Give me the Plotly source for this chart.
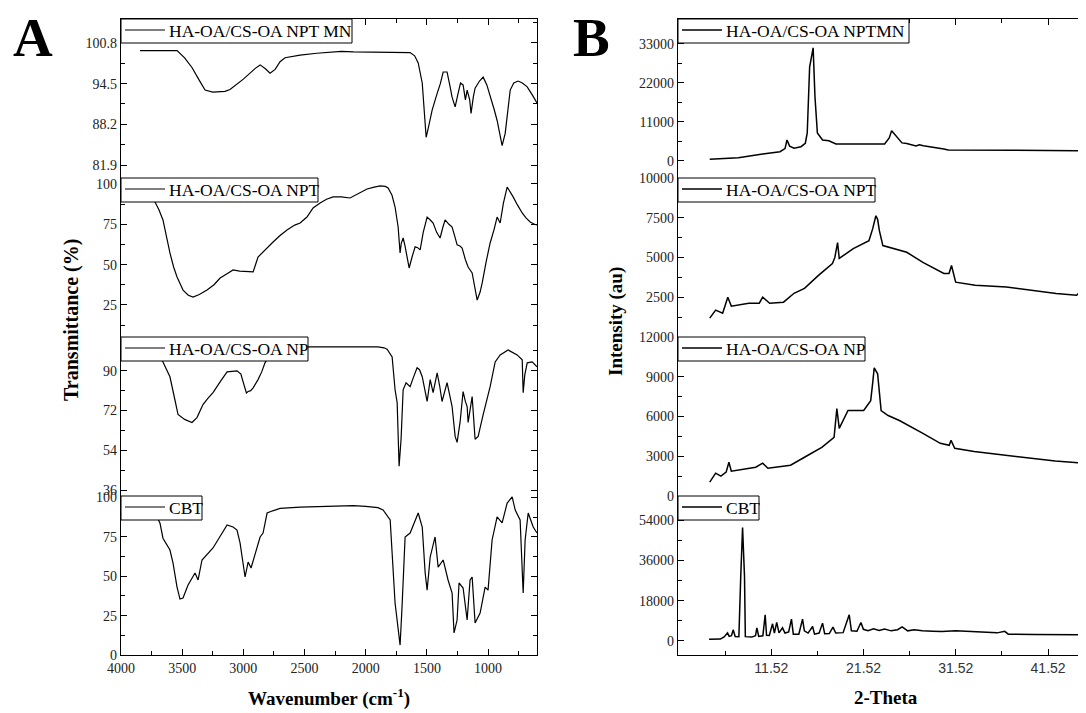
import plotly.graph_objects as go

# page geometry: the html body adds an 8px offset, so the figure fills the rest
PAGE_W, PAGE_H, OFF = 1086, 713, 8
FW, FH = PAGE_W - OFF, PAGE_H - OFF

# ---------------- FTIR (panel A) ----------------
ftir_wn_mn = [3845, 3542, 3480, 3420, 3360, 3313, 3250, 3150, 3109, 3000, 2900, 2863, 2820, 2782, 2740, 2700, 2659, 2536, 2400, 2300, 2200, 2100, 2000, 1800, 1700, 1637, 1600, 1571, 1538, 1520, 1506, 1490, 1470, 1457, 1416, 1390, 1367, 1335, 1310, 1294, 1269, 1255, 1245, 1225, 1204, 1185, 1171, 1150, 1139, 1120, 1106, 1070, 1040, 1010, 983, 950, 926, 900, 885, 860, 840, 819, 790, 754, 720, 680, 640, 615, 600]
ftir_t_mn = [99.6, 99.6, 98.5, 97.0, 95.0, 93.5, 93.2, 93.3, 93.6, 95.2, 96.9, 97.4, 96.8, 96.1, 96.7, 97.9, 98.5, 98.9, 99.2, 99.3, 99.5, 99.4, 99.4, 99.4, 99.4, 99.3, 98.8, 97.7, 94.6, 90.0, 86.2, 87.5, 89.0, 90.4, 93.0, 94.5, 96.3, 96.3, 94.0, 92.4, 90.9, 92.5, 93.0, 94.6, 94.3, 92.0, 93.5, 92.0, 89.9, 92.5, 93.8, 94.9, 95.5, 94.3, 92.7, 90.5, 88.8, 86.5, 84.9, 86.8, 90.5, 93.5, 94.6, 94.9, 94.6, 94.0, 92.8, 91.9, 91.5]

ftir_wn_npt = [3790, 3750, 3722, 3690, 3657, 3630, 3600, 3570, 3542, 3510, 3493, 3450, 3411, 3360, 3297, 3240, 3190, 3130, 3084, 3030, 2970, 2920, 2880, 2820, 2757, 2700, 2643, 2580, 2536, 2480, 2430, 2373, 2320, 2266, 2200, 2128, 2060, 1989, 1930, 1882, 1840, 1817, 1785, 1760, 1735, 1719, 1710, 1694, 1680, 1670, 1645, 1620, 1596, 1575, 1555, 1530, 1498, 1470, 1449, 1420, 1392, 1370, 1351, 1320, 1294, 1270, 1253, 1230, 1212, 1185, 1163, 1130, 1110, 1089, 1065, 1048, 1015, 983, 950, 926, 901, 875, 844, 820, 795, 760, 721, 690, 656, 620, 600]
ftir_t_npt = [91.5, 90.5, 88.8, 84.0, 77.7, 67.0, 57.2, 48.5, 42.3, 37.0, 34.2, 31.0, 29.9, 31.5, 34.2, 37.5, 41.7, 44.5, 46.7, 46.0, 45.5, 45.5, 54.7, 59.5, 64.0, 68.0, 71.5, 74.5, 75.8, 79.5, 85.1, 88.2, 90.5, 92.0, 92.0, 91.3, 94.0, 96.9, 98.0, 98.8, 98.5, 97.5, 93.0, 85.7, 73.3, 57.2, 63.0, 66.5, 62.0, 57.2, 47.9, 55.0, 61.0, 60.5, 59.1, 70.0, 79.5, 77.5, 75.8, 70.0, 66.5, 73.0, 77.7, 75.0, 73.3, 67.0, 62.2, 61.5, 60.3, 53.0, 48.5, 44.8, 36.0, 28.0, 33.0, 38.6, 52.0, 63.4, 72.0, 79.5, 75.8, 88.0, 98.1, 95.5, 92.0, 87.0, 82.0, 79.0, 76.4, 75.0, 74.6]

ftir_wn_np = [3790, 3700, 3657, 3600, 3560, 3534, 3480, 3420, 3379, 3330, 3290, 3248, 3190, 3133, 3052, 3020, 3002, 2975, 2961, 2940, 2920, 2880, 2850, 2823, 2780, 2700, 2536, 2300, 2100, 2000, 1900, 1850, 1825, 1784, 1760, 1743, 1727, 1711, 1694, 1670, 1637, 1610, 1580, 1560, 1538, 1498, 1473, 1449, 1416, 1395, 1376, 1335, 1294, 1269, 1253, 1229, 1204, 1185, 1171, 1163, 1130, 1106, 1081, 1040, 983, 942, 901, 836, 800, 762, 721, 713, 700, 680, 639, 600]
ftir_t_np = [99.0, 97.5, 94.0, 87.3, 77.0, 70.2, 68.0, 66.6, 68.8, 74.7, 77.5, 80.1, 85.0, 89.5, 90.0, 88.5, 85.0, 80.0, 80.6, 81.0, 82.3, 86.0, 89.5, 93.6, 97.5, 100.0, 100.8, 100.8, 100.9, 100.6, 100.8, 100.4, 99.8, 96.3, 81.4, 75.6, 46.8, 59.0, 81.4, 84.6, 82.8, 87.0, 91.4, 90.5, 87.3, 76.1, 86.0, 80.1, 89.1, 83.0, 76.1, 84.6, 73.8, 60.3, 57.6, 66.6, 80.6, 76.0, 73.8, 66.6, 78.3, 59.0, 60.3, 70.2, 82.8, 94.0, 97.2, 99.4, 98.5, 97.2, 95.0, 80.1, 88.0, 93.6, 94.0, 91.8]

ftir_wn_cbt = [3790, 3720, 3681, 3657, 3600, 3575, 3542, 3518, 3493, 3452, 3395, 3370, 3338, 3248, 3133, 3084, 3052, 3027, 2986, 2961, 2937, 2904, 2863, 2839, 2806, 2760, 2700, 2536, 2300, 2100, 2000, 1900, 1858, 1800, 1760, 1743, 1719, 1703, 1678, 1637, 1596, 1571, 1538, 1514, 1498, 1473, 1433, 1408, 1367, 1327, 1294, 1278, 1253, 1237, 1204, 1171, 1147, 1130, 1106, 1065, 1024, 1000, 967, 926, 885, 844, 803, 778, 738, 713, 697, 672, 631, 600]
ftir_t_cbt = [96.0, 90.0, 83.6, 74.1, 66.6, 58.4, 43.1, 35.5, 36.2, 44.4, 52.0, 47.6, 60.3, 67.9, 82.5, 81.2, 79.3, 71.1, 49.5, 59.0, 55.2, 64.7, 74.9, 77.4, 90.1, 91.5, 93.0, 93.9, 94.5, 94.8, 94.3, 93.5, 92.0, 85.7, 33.0, 20.3, 6.3, 30.5, 74.9, 77.4, 85.7, 90.1, 81.2, 52.0, 41.2, 62.2, 74.9, 55.8, 60.3, 47.6, 39.3, 14.0, 22.2, 45.7, 42.5, 22.2, 47.6, 49.5, 20.3, 26.6, 43.1, 41.2, 73.0, 87.6, 83.8, 96.4, 100.3, 92.0, 85.7, 39.3, 73.0, 90.1, 81.2, 77.4]

# ---------------- XRD (panel B) ----------------
xrd_2t_mn = [4.84, 7.94, 10.58, 12.46, 13.0, 13.22, 13.5, 13.98, 14.73, 15.2, 15.41, 15.67, 16.05, 16.25, 16.51, 17.07, 17.76, 18.52, 23.8, 24.3, 24.56, 25.12, 25.68, 26.2, 27.19, 27.57, 28.0, 30.22, 30.7, 38.0, 45.6]
xrd_i_mn = [480, 930, 1970, 2620, 3500, 5920, 4200, 3580, 4030, 5000, 7900, 26500, 31900, 18050, 7900, 5920, 5720, 4800, 4800, 6500, 8550, 6850, 5100, 4900, 4230, 4600, 4300, 3380, 3100, 3000, 2900]

xrd_2t_npt = [4.84, 5.48, 6.24, 6.8, 7.18, 9.07, 10.21, 10.58, 11.34, 12.84, 13.98, 15.11, 16.63, 18.14, 18.4, 18.70, 18.88, 20.40, 22.10, 22.5, 22.85, 23.04, 23.23, 23.61, 26.2, 27.95, 30.22, 30.78, 31.05, 31.5, 33.62, 37.0, 42.4, 44.6, 44.98, 45.3, 45.6]
xrd_i_npt = [1190, 1690, 1500, 2500, 1940, 2125, 2125, 2500, 2125, 2190, 2750, 3060, 3875, 4625, 5000, 5940, 4940, 5560, 6060, 6800, 7625, 7400, 6690, 5750, 5330, 4690, 4000, 4000, 4500, 3450, 3250, 3140, 2730, 2625, 2830, 2650, 2500]

xrd_2t_np = [4.84, 5.48, 6.05, 6.62, 6.92, 7.18, 9.83, 10.58, 11.15, 13.60, 15.49, 16.99, 18.32, 18.62, 18.88, 19.83, 21.53, 22.29, 22.5, 22.67, 23.04, 23.42, 24.18, 25.4, 27.95, 29.84, 30.8, 31.0, 31.4, 33.5, 36.9, 42.3, 45.0, 45.6]
xrd_i_np = [1050, 1725, 1500, 1800, 2550, 1875, 2175, 2475, 2100, 2325, 3075, 3675, 4425, 6600, 5100, 6450, 6450, 7200, 8500, 9675, 9225, 6450, 6075, 5700, 4725, 3975, 3825, 4200, 3600, 3350, 3075, 2650, 2500, 2325]

xrd_2t_cbt = [4.77, 6.0, 6.4, 6.77, 6.95, 7.2, 7.38, 7.6, 8.0, 8.14, 8.2, 8.40, 8.55, 8.61, 8.7, 9.4, 9.8, 9.95, 10.15, 10.6, 10.85, 11.0, 11.3, 11.5, 11.65, 11.85, 12.1, 12.35, 12.73, 13.0, 13.4, 13.7, 13.9, 14.5, 14.9, 15.1, 15.5, 15.99, 16.2, 16.7, 17.07, 17.3, 17.8, 18.2, 18.5, 19.3, 19.96, 20.2, 20.8, 21.23, 21.5, 22.0, 22.6, 23.2, 23.8, 24.5, 25.2, 25.7, 26.3, 27.0, 27.9, 29.0, 30.0, 31.5, 33.5, 36.0, 36.82, 37.2, 40.0, 43.0, 45.6]
xrd_i_cbt = [760, 800, 1800, 3600, 2000, 2300, 4950, 2000, 1900, 28650, 28650, 50700, 28650, 28650, 1900, 1700, 2300, 5850, 2000, 2300, 11700, 2500, 2400, 5000, 7650, 3500, 8250, 3600, 5850, 3500, 4000, 9750, 3000, 3000, 9750, 4500, 3500, 6450, 3000, 3500, 7950, 3200, 3300, 6150, 3500, 3700, 11700, 4500, 4300, 8250, 5200, 4600, 5400, 4700, 5300, 4500, 5000, 6300, 4500, 5000, 4500, 4300, 4200, 4500, 4000, 3600, 4300, 3000, 2900, 2750, 2700]

ftir_names = ["HA-OA/CS-OA NPT MN", "HA-OA/CS-OA NPT", "HA-OA/CS-OA NP", "CBT"]
xrd_names = ["HA-OA/CS-OA NPTMN", "HA-OA/CS-OA NPT", "HA-OA/CS-OA NP", "CBT"]

ftir_x = [ftir_wn_mn, ftir_wn_npt, ftir_wn_np, ftir_wn_cbt]
ftir_y = [ftir_t_mn, ftir_t_npt, ftir_t_np, ftir_t_cbt]
xrd_x = [xrd_2t_mn, xrd_2t_npt, xrd_2t_np, xrd_2t_cbt]
xrd_y = [xrd_i_mn, xrd_i_npt, xrd_i_np, xrd_i_cbt]

ftir_yranges = [[79.9, 104.5], [5.1, 103.7], [33.3, 105.3], [0, 100.9]]
ftir_yticks = [[81.9, 88.2, 94.5, 100.8], [25, 50, 75, 100], [36, 54, 72, 90], [0, 25, 50, 75, 100]]
xrd_yranges = [[-4800, 40050], [0, 10000], [0, 12000], [-6300, 64800]]
xrd_yticks = [[0, 11000, 22000, 33000], [2500, 5000, 7500, 10000], [0, 3000, 6000, 9000, 12000], [0, 18000, 36000, 54000]]

ftir_xticks = [4000, 3500, 3000, 2500, 2000, 1500, 1000]
xrd_xticks = [11.52, 21.52, 31.52, 41.52]
ftir_xrange = [4000, 600]
xrd_xrange = [1.40, 45.63]

# ---------------- layout geometry (page pixels) ----------------
A_L, A_R = 121, 537
B_L, B_R = 678, 1086
ROWS = [19, 178, 337, 496, 655]
KEY_W = [231, 197, 187, 81]
KEY_H = 24


def fx(p):
    return (p - OFF) / FW


def fy(p):
    return 1 - (p - OFF) / FH


def minors(vals, lo, hi):
    vals = sorted(vals)
    step = vals[1] - vals[0]
    out = []
    m = vals[0] - step / 2
    for k in range(len(vals) + 2):
        v = m + k * step
        if lo < v < hi:
            out.append(v)
    return out


def fmt(v):
    return f"{v:g}"


SERIF = "Liberation Serif"
SANS = "Liberation Sans"
tickfont = dict(family=SERIF, size=14, color="#222")

fig = go.Figure()
layout = dict(width=FW, height=FH,
              margin=dict(l=0, r=0, t=0, b=0, autoexpand=False),
              paper_bgcolor="white", plot_bgcolor="white", showlegend=False)
annotations = []
shapes = []


def add_panel(offset, xs, ys, names, xr, xt, yr, yt, left, right, mirror, xfont, lw):
    for i in range(4):
        n = offset + i + 1
        xa = "x" if n == 1 else f"x{n}"
        ya = "y" if n == 1 else f"y{n}"
        fig.add_trace(go.Scatter(x=xs[i], y=ys[i], mode="lines", name=names[i],
                                 line=dict(color="black", width=lw),
                                 xaxis=xa, yaxis=ya, hoverinfo="skip"))
        xmin, xmax = min(xr), max(xr)
        xaxis = dict(domain=[fx(left), fx(right)], range=xr, anchor=ya,
                     showgrid=False, zeroline=False)
        if i == 0:
            xaxis.update(side="top", showline=True, linecolor="black", linewidth=1.3,
                         ticks="inside", ticklen=6, tickcolor="black", tickwidth=1,
                         tickmode="array", tickvals=xt, showticklabels=False,
                         minor=dict(tickmode="array", tickvals=minors(xt, xmin, xmax),
                                    ticks="inside", ticklen=3.5, tickcolor="black"))
        elif i == 3:
            xaxis.update(side="bottom", showline=True, linecolor="black", linewidth=1.3,
                         ticks="inside", ticklen=6, tickcolor="black", tickwidth=1,
                         tickmode="array", tickvals=xt, ticktext=[fmt(v) for v in xt],
                         tickfont=xfont,
                         minor=dict(tickmode="array", tickvals=minors(xt, xmin, xmax),
                                    ticks="inside", ticklen=3.5, tickcolor="black"))
        else:
            xaxis.update(visible=False)
        layout["xaxis" if n == 1 else f"xaxis{n}"] = xaxis

        lo, hi = yr[i]
        layout["yaxis" if n == 1 else f"yaxis{n}"] = dict(
            domain=[fy(ROWS[i + 1]), fy(ROWS[i])], range=yr[i], anchor=xa,
            showgrid=False, zeroline=False, showline=True, linecolor="black",
            linewidth=1.3, mirror=mirror, ticks="inside", ticklen=6,
            tickcolor="black", tickwidth=1, tickmode="array", tickvals=yt[i],
            ticktext=[fmt(v) for v in yt[i]], tickfont=tickfont,
            minor=dict(tickmode="array", tickvals=minors(yt[i], lo, hi),
                       ticks="inside", ticklen=3.5, tickcolor="black"))

        # key box (legend) in the top-left corner of each stacked plot
        top = ROWS[i]
        shapes.append(dict(type="rect", xref="paper", yref="paper", layer="above",
                           x0=fx(left), x1=fx(left + KEY_W[i]),
                           y0=fy(top + KEY_H), y1=fy(top),
                           fillcolor="white", line=dict(color="black", width=1)))
        shapes.append(dict(type="line", xref="paper", yref="paper", layer="above",
                           x0=fx(left + 4), x1=fx(left + 44),
                           y0=fy(top + 11), y1=fy(top + 11),
                           line=dict(color="black", width=lw)))
        annotations.append(dict(
            text=names[i], x=fx(left + 46), y=fy(top + KEY_H / 2),
            xref="paper", yref="paper", xanchor="left", yanchor="middle",
            showarrow=False, font=dict(family=SERIF, size=17.5, color="black")))


add_panel(0, ftir_x, ftir_y, ftir_names, ftir_xrange, ftir_xticks,
          ftir_yranges, ftir_yticks, A_L, A_R, "ticks", tickfont, 1.2)
add_panel(4, xrd_x, xrd_y, xrd_names, xrd_xrange, xrd_xticks,
          xrd_yranges, xrd_yticks, B_L, B_R, False,
          dict(family=SANS, size=14, color="#333"), 1.5)

title_font = dict(family=SERIF, size=19, color="black")
panel_font = dict(family=SERIF, size=55, color="black")
titles = [
    dict(text="<b>A</b>", x=fx(33), y=fy(37.5), font=panel_font),
    dict(text="<b>B</b>", x=fx(591), y=fy(37.5), font=panel_font),
    dict(text="<b>Transmittance (%)</b>", x=fx(71), y=fy(320), textangle=-90,
         font=dict(family=SERIF, size=20, color="black")),
    dict(text="<b>Intensity (au)</b>", x=fx(616), y=fy(322), textangle=-90, font=title_font),
    dict(text="<b>Wavenumber (cm<sup>-1</sup>)</b>", x=fx(329), y=fy(697), font=title_font),
    dict(text="<b>2-Theta</b>", x=fx(886), y=fy(697), font=title_font),
]
for a in titles:
    a.update(xref="paper", yref="paper", showarrow=False, xanchor="center", yanchor="middle")
layout["annotations"] = annotations + titles
layout["shapes"] = shapes

fig.update_layout(**layout)
fig.write_html("out.html")
